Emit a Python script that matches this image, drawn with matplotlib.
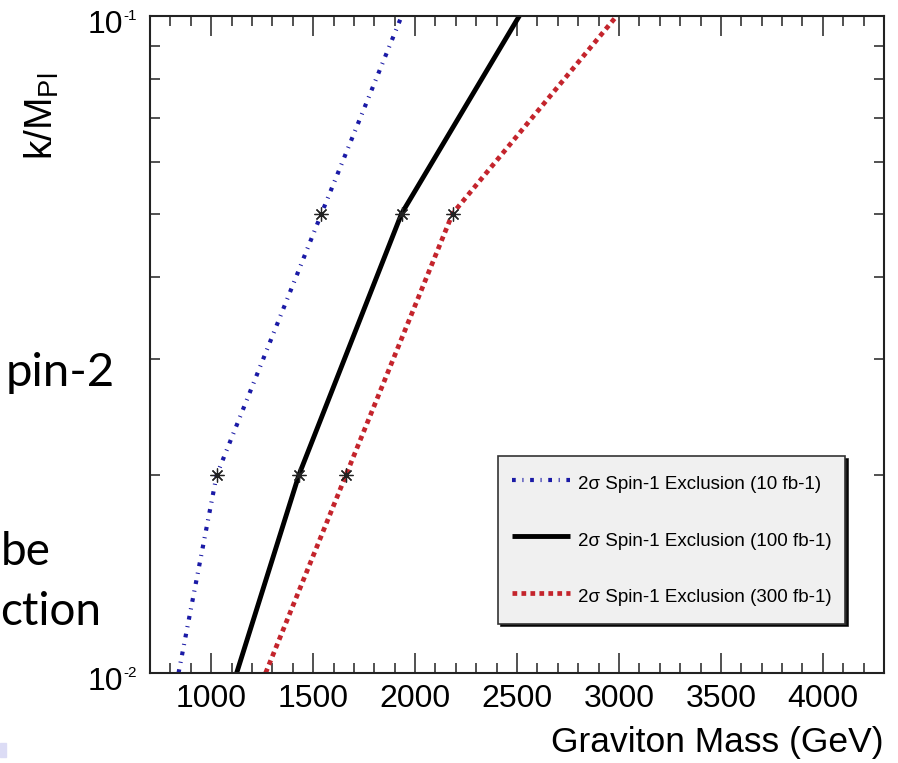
import matplotlib
matplotlib.use('Agg')
import matplotlib.pyplot as plt
import matplotlib.font_manager as fm
from matplotlib.patches import Rectangle
from matplotlib.ticker import MultipleLocator, LogLocator, NullFormatter

# ---------------- data ----------------
k_values = [0.01, 0.02, 0.05, 0.1]
mass_10fb = [840, 1027, 1541, 1935]
mass_100fb = [1125, 1430, 1934, 2512]
mass_300fb = [1267, 1661, 2184, 2990]
series_labels = ['2σ Spin-1 Exclusion (10 fb-1)',
                 '2σ Spin-1 Exclusion (100 fb-1)',
                 '2σ Spin-1 Exclusion (300 fb-1)']
x_major = [1000, 1500, 2000, 2500, 3000, 3500, 4000]
x_tick_labels = ['1000', '1500', '2000', '2500', '3000', '3500', '4000']
y_tick_vals = [0.01, 0.1]
y_tick_base = ['10', '10']
y_tick_exp = ['-2', '-1']
slide_texts = ['pin-2', 'be', 'ction']

# ---------------- fonts ----------------
names = {f.name for f in fm.fontManager.ttflist}
if 'Liberation Sans Narrow' in names:
    main_font, f = 'Liberation Sans Narrow', 1.0
else:
    main_font, f = 'Liberation Sans', 0.92
plt.rcParams['font.family'] = [main_font, 'DejaVu Sans']

W, H = 898, 763
fig = plt.figure(figsize=(W / 100, H / 100), dpi=100)
fig.patch.set_facecolor('white')
ax_l, ax_r, ax_t, ax_b = 150, 884, 15.7, 673
ax = fig.add_axes([ax_l / W, (H - ax_b) / H, (ax_r - ax_l) / W, (ax_b - ax_t) / H])

blue = '#1a1aa6'
red = '#c4242c'

ax.plot(mass_10fb, k_values, color=blue, lw=3.0,
        ls=(0, (0.9, 1.6, 0.25, 1.6)), dash_capstyle='butt', label=series_labels[0])
ax.plot(mass_100fb, k_values, color='black', lw=3.5, solid_capstyle='butt',
        label=series_labels[1])
ax.plot(mass_300fb, k_values, color=red, lw=3.4,
        ls=(0, (1.0, 0.9)), dash_capstyle='butt', label=series_labels[2])

for m in (mass_10fb, mass_100fb, mass_300fb):
    ax.plot(m[1:3], k_values[1:3], ls='none', marker=(8, 2, 0), ms=10,
            mec='#222222', mew=0.9, zorder=5)

ax.set_xlim(700, 4300)
ax.set_yscale('log')
ax.set_ylim(0.01, 0.1)

ax.set_xticks(x_major)
ax.set_xticklabels(x_tick_labels)
ax.xaxis.set_minor_locator(MultipleLocator(100))
ax.tick_params(axis='x', which='major', direction='in', length=14.4, width=1.1,
               top=True, labelsize=25 * f, pad=8, color='#222222')
ax.tick_params(axis='x', which='minor', direction='in', length=7.2, width=1.1,
               top=True, color='#222222')

ax.set_yticks(y_tick_vals)
ax.yaxis.set_minor_locator(LogLocator(base=10, subs=[2, 3, 4, 5, 6, 7, 8, 9]))
ax.yaxis.set_minor_formatter(NullFormatter())
ax.tick_params(axis='y', which='both', direction='in', right=True,
               labelleft=False, color='#222222', width=1.1)
ax.tick_params(axis='y', which='major', length=14)
ax.tick_params(axis='y', which='minor', length=7.5)

for v, base, ex in zip(y_tick_vals, y_tick_base, y_tick_exp):
    ax.annotate(base, xy=(0, v), xycoords=('axes fraction', 'data'),
                xytext=(-19.5, -6.5), textcoords='offset points',
                ha='right', va='center', fontsize=25 * f, annotation_clip=False)
    ax.annotate(ex, xy=(0, v), xycoords=('axes fraction', 'data'),
                xytext=(-19, 0), textcoords='offset points',
                ha='left', va='center', fontsize=11, annotation_clip=False)

for s in ax.spines.values():
    s.set_linewidth(1.5)
    s.set_color('#222222')

ax.set_xlabel('Graviton Mass (GeV)', fontsize=25.5, ha='right', va='baseline')
ax.xaxis.set_label_coords(1.0, (ax_b - 752) / (ax_b - ax_t))

fig.text(23 / W, 1 - 73 / H, r'k/M$_{\mathregular{Pl}}$', rotation=90,
         rotation_mode='anchor', ha='right', va='top', fontsize=28,
         family='Liberation Sans')

leg = ax.legend(loc='upper left', bbox_to_anchor=((498 - ax_l) / (ax_r - ax_l),
                                                  (ax_b - 456) / (ax_b - ax_t)),
                prop={'size': 13.5}, frameon=True, fancybox=False,
                shadow={'color': 'black', 'alpha': 0.9}, facecolor='#f0f0f0',
                edgecolor='#333333', framealpha=1, handlelength=3.1,
                handleheight=1.8, handletextpad=0.4, labelspacing=1.6,
                borderpad=0.75, borderaxespad=0)
leg.get_frame().set_linewidth(1.2)

# slide fragments around the chart
fig.text(115 / W, 1 - 386 / H, slide_texts[0], ha='right', va='baseline', fontsize=34,
         family=['Lato', 'DejaVu Sans'], color='black')
fig.text(0.5 / W, 1 - 565 / H, slide_texts[1], ha='left', va='baseline', fontsize=33,
         family=['Lato', 'DejaVu Sans'], color='black')
fig.text(0.5 / W, 1 - 625 / H, slide_texts[2], ha='left', va='baseline', fontsize=33,
         family=['Lato', 'DejaVu Sans'], color='black')
fig.patches.append(Rectangle((0, 1 - 757 / H), 6 / W, 14 / H,
                             transform=fig.transFigure, color='#dcdcf5', zorder=0))

fig.savefig('out.png', dpi=100)
